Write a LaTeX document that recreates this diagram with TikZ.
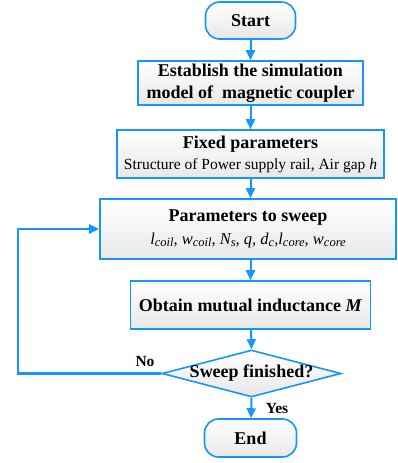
\documentclass[tikz,border=0pt]{standalone}
\usepackage{fontspec}
\setmainfont{Liberation Serif}
\usetikzlibrary{shapes.geometric,arrows.meta}
\definecolor{fblue}{RGB}{20,150,250}
\newcommand{\sbs}[1]{\raisebox{-2pt}{\fontsize{12.5}{12.5}\selectfont\textit{#1}}}
\tikzset{
  x=1pt,y=-1pt,
  boxstyle/.style={draw=fblue,line width=1.6pt,top color=white,bottom color=gray!18,
    align=center,inner sep=2pt,font=\fontsize{18}{22}\selectfont\bfseries},
  termstyle/.style={boxstyle,rounded corners=14pt},
  decstyle/.style={boxstyle,diamond,inner sep=0pt,minimum width=179pt,minimum height=47pt},
  arr/.style={draw=fblue,line width=2pt,-{Triangle[length=10pt,width=9pt]}},
  lbl/.style={font=\fontsize{15.5}{18}\selectfont\bfseries}
}
\begin{document}
\begin{tikzpicture}
\useasboundingbox (0,0) rectangle (397,463);
\node[termstyle,minimum width=90pt,minimum height=37pt] (start) at (250.5,20.5) {Start};
\node[boxstyle,minimum width=225pt,minimum height=44pt] (est) at (250.5,83)
  {Establish the simulation\\model of~ magnetic coupler};
\node[boxstyle,minimum width=267pt,minimum height=48pt] (fixed) at (250.5,154)
  {Fixed parameters\\[-1pt]{\fontsize{15.5}{18}\selectfont\mdseries Structure of Power supply rail, Air gap \textit{h}}};
\node[boxstyle,minimum width=296pt,minimum height=60pt] (sweep) at (248,229)
  {Parameters to sweep\\[1pt]{\fontsize{16.5}{18}\selectfont\mdseries\itshape l\sbs{coil}, w\sbs{coil}, N\sbs{s}, q, d\sbs{c},l\sbs{core}, w\sbs{core}}};
\node[boxstyle,minimum width=240pt,minimum height=48pt] (obt) at (250.5,305)
  {Obtain mutual inductance \textit{M}};
\node[decstyle] (dec) at (251.5,373.5) {};
\node[font=\fontsize{18}{22}\selectfont\bfseries] (dectext) at (dec.center) {Sweep finished?};
\node[termstyle,minimum width=92pt,minimum height=38pt] (end) at (250.5,438) {End};
\coordinate (c1) at (18,373.5);
\coordinate (c2) at (18,229);
\draw[arr] (start) -- (est);
\draw[arr] (est) -- (fixed);
\draw[arr] (fixed.south) -- (fixed.south |- sweep.north);
\draw[arr] (sweep.south -| obt.north) -- (obt.north);
\draw[arr] (obt) -- (dec.north);
\draw[arr] (dec.south) -- (end);
\draw[arr,line width=2.6pt] (dec.west) -- (c1) -- (c2) -- (sweep.west);
\node[lbl] (no) at (145,361) {No};
\node[lbl] (yes) at (277,408) {Yes};
\end{tikzpicture}
\end{document}
